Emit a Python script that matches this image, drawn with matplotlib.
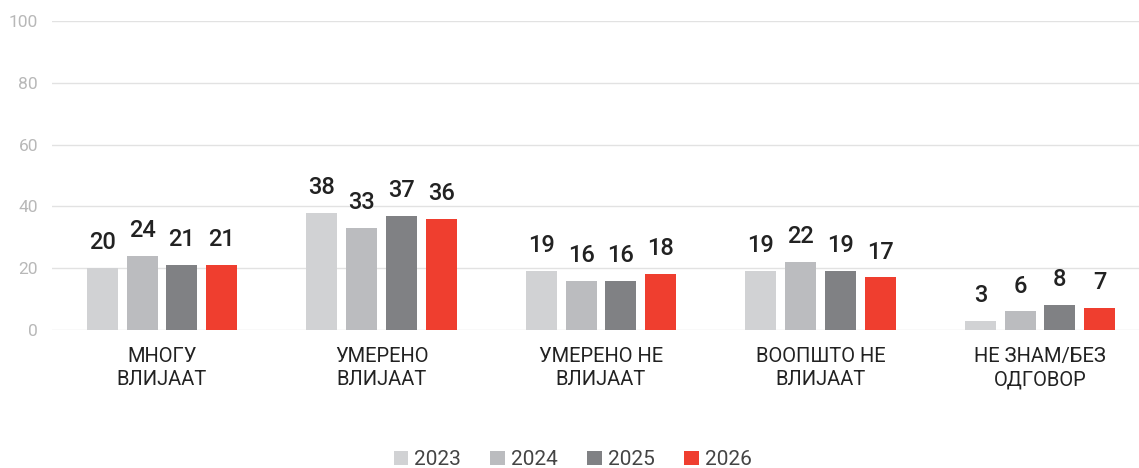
import numpy as np
import matplotlib.pyplot as plt

plt.rcParams['font.family'] = ['Roboto', 'DejaVu Sans']

categories = ['МНОГУ\nВЛИЈААТ', 'УМЕРЕНО\nВЛИЈААТ', 'УМЕРЕНО НЕ\nВЛИЈААТ',
              'ВООПШТО НЕ\nВЛИЈААТ', 'НЕ ЗНАМ/БЕЗ\nОДГОВОР']
years = ['2023', '2024', '2025', '2026']
v2023 = [20, 38, 19, 19, 3]
v2024 = [24, 33, 16, 22, 6]
v2025 = [21, 37, 16, 19, 8]
v2026 = [21, 36, 18, 17, 7]
colors = ['#d1d2d4', '#bbbcbf', '#808184', '#ef3e2f']

series = [v2023, v2024, v2025, v2026]

fig = plt.figure(figsize=(11.39, 4.68), dpi=100)
ax = fig.add_axes([52 / 1139, 138 / 468, 1 - 52 / 1139, 309 / 468])

x = np.arange(len(categories))
width = 0.141
step = 0.181
for i, (vals, col, yr) in enumerate(zip(series, colors, years)):
    pos = x + (i - 1.5) * step
    ax.bar(pos, vals, width=width, color=col, label=yr, zorder=3)
    for p, v in zip(pos, vals):
        ax.annotate(str(v), (p, v), xytext=(0, 10), textcoords='offset points',
                    ha='center', va='bottom', fontsize=17, fontweight='medium',
                    color='#222222')

ax.set_xlim(-0.501, 4.451)
ax.set_ylim(0, 100)
ax.set_yticks([0, 20, 40, 60, 80, 100])
ax.grid(axis='y', color='#e2e2e2', linewidth=1, zorder=0)
ax.set_axisbelow(True)
for s in ax.spines.values():
    s.set_visible(False)
ax.tick_params(axis='y', length=0, pad=10, labelsize=12.5, labelcolor='#b8b8b8')
ax.tick_params(axis='x', length=0, pad=12)
ax.set_xticks(x)
ax.set_xticklabels(categories, fontsize=14.5, color='#222222', linespacing=1.3)

ax.legend(loc='center', bbox_to_anchor=(0.479, -0.42), ncol=4, frameon=False,
          fontsize=15, handlelength=0.7, handleheight=0.7, handletextpad=0.3,
          columnspacing=1.4, labelcolor='#444444')

fig.savefig('out.png', dpi=100)
